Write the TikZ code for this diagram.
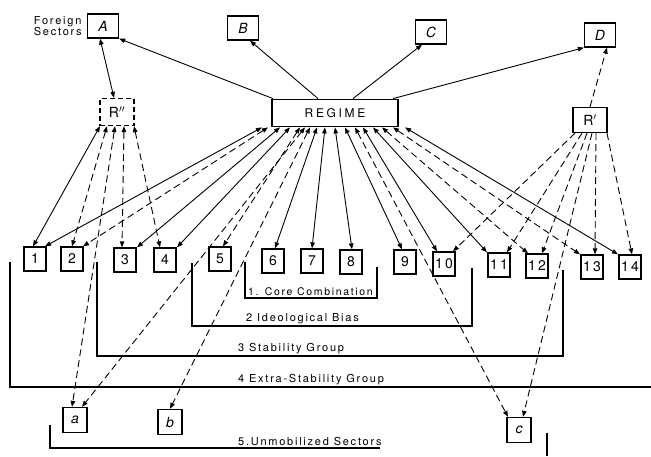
\documentclass[tikz,border=0pt]{standalone}
\usepackage{fontspec}
\setmainfont{TeX Gyre Heros}
\newfontfamily\lettering[LetterSpace=16]{TeX Gyre Heros}
\usetikzlibrary{arrows.meta,positioning}

\begin{document}
\begin{tikzpicture}[x=1pt,y=-1pt,
    >={Triangle[length=6pt,width=4.5pt]},
    sector/.style={draw,line width=1.3pt,minimum width=22pt,minimum height=24pt,inner sep=0pt,
      font=\lettering\fontsize{14}{14}\selectfont},
    foreign/.style={sector,minimum width=31pt,font=\fontsize{14}{14}\selectfont\itshape},
    tie/.style={line width=0.9pt},
    dtie/.style={line width=0.9pt,dash pattern=on 7pt off 4pt},
    bracket/.style={line width=1.3pt},
    grouplabel/.style={anchor=south west,inner sep=1pt,font=\lettering\fontsize{11}{11}\selectfont}]
        \useasboundingbox (0,0) rectangle (651,456);

        \node[foreign] (fa) at (103,26) {A};
        \node[foreign] (fb) at (243,28) {B};
        \node[foreign] (fc) at (431,32) {C};
        \node[foreign] (fd) at (600,35) {D};
        \node[left=5pt of fa,align=left,inner sep=0pt,font=\lettering\fontsize{11}{11.5}\selectfont] (forlabel) {Foreign\\Sectors};

        \node[sector,dash pattern=on 5pt off 3pt,minimum width=34pt,minimum height=27pt] (rpp) at (117,112) {R$''$};
        \node[sector,line width=1.8pt,minimum width=126pt,minimum height=27pt,
          font=\lettering\fontsize{12}{12}\selectfont\addfontfeature{LetterSpace=22}] (regime) at (335,113) {REGIME};
        \node[sector,minimum width=34pt,minimum height=25pt] (rp) at (590,120) {R$'$};

        \foreach \n/\x/\y in {1/35/259,2/72/259,3/125/260,4/165/260,5/220/259,6/273/261,7/312/261,
            8/351/262,9/405/262,10/444/264,11/499/265,12/537/266,13/592/267,14/630/267}
          \node[sector] (s\n) at (\x,\y) {\n};

        \node[foreign,minimum width=24pt,minimum height=25pt] (ua) at (75,420) {a};
        \node[foreign,minimum width=24pt,minimum height=25pt] (ub) at (170,422) {b};
        \node[foreign,minimum width=24pt,minimum height=25pt] (uc) at (519,430) {c};

        % foreign sectors
        \draw[<->,tie] ([xshift=-3pt]fa.south) -- ([xshift=-3pt]rpp.north);
        \draw[->,tie] ([xshift=-62pt]regime.north) -- (fa.south east);
        \draw[->,tie] ([xshift=-17pt]regime.north) -- ([xshift=7pt]fb.south);
        \draw[->,tie] ([xshift=18pt]regime.north) -- ([xshift=-9pt]fc.south);
        \draw[->,tie] ([xshift=58pt]regime.north) -- (fd.south west);
        \draw[->,dtie] (rp.north) -- ([xshift=7pt]fd.south);

        % regime ties
        \foreach \t/\a/\b/\st in {s1/-73/10/tie,s2/-67/11/dtie,s3/-55/12/tie,s4/-45/12/tie,
            s5/-35/3/dtie,ua/-30/7/dtie,ub/-25/0/dtie,s6/-18/2/tie,s7/-10/0/tie,s8/0/1/tie,
            s9/10/-3/tie,uc/20/-11/dtie,s10/28/-7/tie,s11/38/-12/tie,s12/47/-9/dtie,
            s13/58/-12/dtie,s14/70/-12/tie}
          \draw[<->,\st] ([xshift=\a pt]regime.south) -- ([xshift=\b pt]\t.north);

        \foreach \t/\a/\b/\st in {s1/-17/-2/tie,s2/-10/0/dtie,ua/-2/-3/dtie,s3/7/-3/dtie,s4/17/-5/dtie}
          \draw[<->,\st] ([xshift=\a pt]rpp.south) -- ([xshift=\b pt]\t.north);

        \foreach \t/\a/\b in {s10/-15/9,s11/-8/8,s12/-3/5,uc/2/4,s13/6/3,s14/17/2}
          \draw[->,dtie] ([xshift=\a pt]rp.south) -- ([xshift=\b pt]\t.north);

        % groups
        \draw[bracket] (245,262) -- (245,298) -- (377,298) -- (377,267);
        \node[grouplabel,font=\lettering\fontsize{10.5}{11}\selectfont] (core) at (247,297) {1. Core Combination};
        \draw[bracket] (192,263) -- (192,326) -- (472,326) -- (472,268);
        \node[grouplabel] (ideol) at (245,325) {2 Ideological Bias};
        \draw[bracket] (97,262) -- (97,356) -- (563,356) -- (563,270);
        \node[grouplabel] (stab) at (237,355) {3 Stability Group};
        \draw[bracket] (10,262) -- (10,387) -- (651,387);
        \node[grouplabel] (extra) at (237,386) {4 Extra-Stability Group};
        \draw[bracket] (50,425) -- (50,448) -- (380,448);
        \draw[bracket] (547,433) -- (547,456);
        \node[grouplabel] (unmob) at (237,447) {5.Unmobilized Sectors};
\end{tikzpicture}
\end{document}
